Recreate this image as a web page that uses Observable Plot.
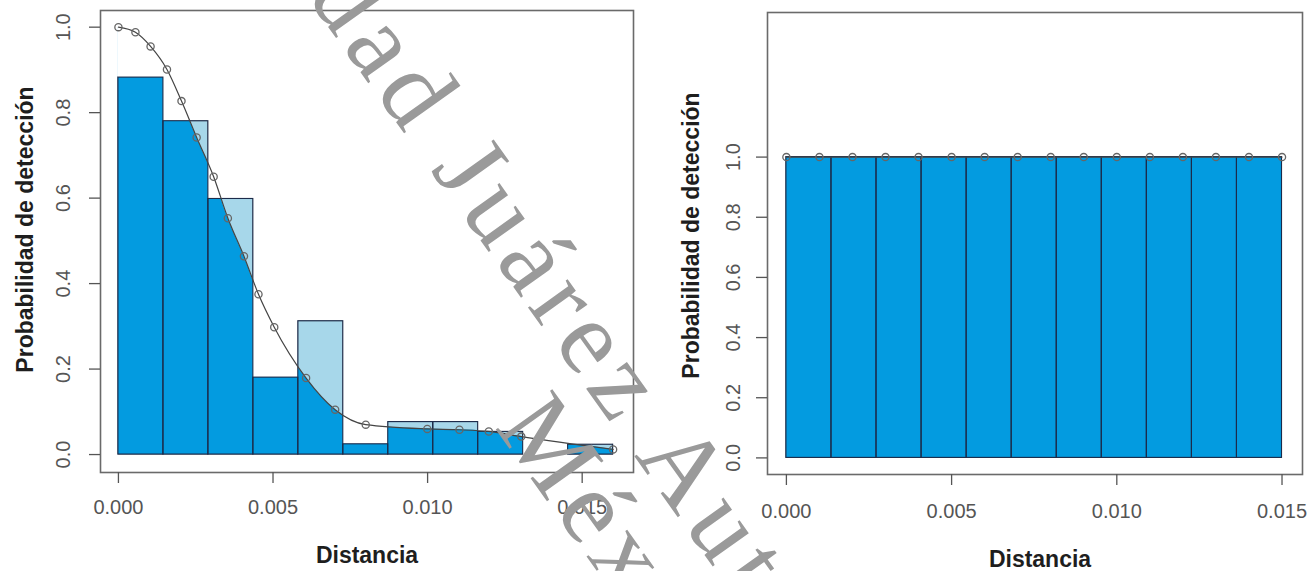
<!DOCTYPE html>
<html><head><meta charset="utf-8">
<script src="https://cdn.jsdelivr.net/npm/d3@7"></script>
<script src="https://cdn.jsdelivr.net/npm/@observablehq/plot@0.6"></script>
<style>
body{margin:0;background:#fff;}
#wrap{position:relative;width:1316px;height:571px;display:flex;overflow:hidden;background:#fff;}
#wrap > div, #wrap > svg{flex:none;}
#wm{position:absolute;left:0;top:0;pointer-events:none;}
</style></head><body><div id="wrap"></div>
<script>
// ---- data: left panel (fitted detection function vs. observed histogram)
const leftBreaks = [0, 0.001455, 0.002909, 0.004364, 0.005818, 0.007273, 0.008727, 0.010182, 0.011636, 0.013091, 0.014545, 0.016];
const leftObserved = [0.882, 0.780, 0.598, 0.180, 0.312, 0.024, 0.076, 0.076, 0.053, 0.000, 0.023];
const leftCurveX = [0, 0.00055, 0.00104, 0.00157, 0.00204, 0.00253, 0.00308, 0.00354, 0.00406, 0.00453, 0.00504, 0.00607, 0.00701, 0.00800, 0.00999, 0.01103, 0.01198, 0.01303, 0.01600];
const leftCurveY = [1.000, 0.988, 0.955, 0.901, 0.827, 0.742, 0.650, 0.553, 0.464, 0.375, 0.298, 0.179, 0.105, 0.070, 0.060, 0.058, 0.054, 0.042, 0.012];
const leftXTicks = [0, 0.005, 0.010, 0.015];
const leftYTicks = [0, 0.2, 0.4, 0.6, 0.8, 1.0];

// ---- data: right panel
const rightBreaks = [0, 0.001364, 0.002727, 0.004091, 0.005455, 0.006818, 0.008182, 0.009545, 0.010909, 0.012273, 0.013636, 0.015];
const rightObserved = [1, 1, 1, 1, 1, 1, 1, 1, 1, 1, 1];
const rightCurveX = [0, 0.001, 0.002, 0.003, 0.004, 0.005, 0.006, 0.007, 0.008, 0.009, 0.010, 0.011, 0.012, 0.013, 0.014, 0.015];
const rightCurveY = [1, 1, 1, 1, 1, 1, 1, 1, 1, 1, 1, 1, 1, 1, 1, 1];
const rightXTicks = [0, 0.005, 0.010, 0.015];
const rightYTicks = [0, 0.2, 0.4, 0.6, 0.8, 1.0];

const xTitle = "Distancia";
const yTitle = "Probabilidad de detección";
const wmLine1 = "Universidad Juárez Autónoma de Tabasco";
const wmLine2 = "México";

const DARK = "#039be0";
const LIGHT = "#a7d7ea";
const NAVY = "#1c2b4a";
const FONT = "'Liberation Sans', Arial, Helvetica, sans-serif";

function panel(o) {
  const n = o.observed.length;
  const bins = o.observed.map((v, i) => ({x1: o.breaks[i], x2: o.breaks[i + 1], y: v}));
  const curve = o.cx.map((x, i) => ({x, y: o.cy[i]}));
  const steps = bins.map(b => ({x: b.x1, y: b.y})).concat([{x: o.breaks[n], y: o.observed[n - 1]}]);
  const top = o.yDomain[1];
  return Plot.plot({
    width: 658, height: 571,
    marginLeft: o.m[0], marginRight: o.m[1], marginTop: o.m[2], marginBottom: o.m[3],
    x: {domain: o.xDomain, axis: null},
    y: {domain: o.yDomain, axis: null},
    style: {fontFamily: FONT, background: "white", overflow: "visible"},
    marks: [
      Plot.rectY(bins, {x1: "x1", x2: "x2", y1: 0, y2: "y", fill: LIGHT, stroke: "#5b6b78", strokeWidth: 1}),
      Plot.areaY(curve, {x: "x", y1: 0, y2: "y", curve: "monotone-x", fill: DARK}),
      Plot.areaY(steps, {x: "x", y1: "y", y2: top, curve: "step-after", fill: "white"}),
      Plot.rectY(bins.filter(b => b.y > 0), {x1: "x1", x2: "x2", y1: 0, y2: "y", fill: "none", stroke: NAVY, strokeWidth: 1.1}),
      Plot.line(curve, {x: "x", y: "y", curve: "monotone-x", stroke: "#444", strokeWidth: 1.2}),
      Plot.dot(curve, {x: "x", y: "y", r: 3.6, stroke: "#666", fill: "none", strokeWidth: 1.3}),
      Plot.frame({stroke: "#6a6a6a", strokeWidth: 1.6}),
      Plot.axisX(o.xTicks, {tickSize: 11, tickFormat: () => "", label: null, stroke: "#555", strokeWidth: 1.3}),
      Plot.axisY(o.yTicks, {tickSize: 11, tickFormat: () => "", label: null, stroke: "#555", strokeWidth: 1.3}),
      Plot.text(o.xTicks, {x: d => d, y: o.yDomain[0], text: d => d3.format(".3f")(d), dy: o.xLabDy, fontSize: 20, fill: "#555", lineAnchor: "middle"}),
      Plot.text(o.yTicks, {x: o.xDomain[0], y: d => d, text: d => d.toFixed(1), rotate: -90, dx: o.yLabDx, fontSize: 20, fill: "#555", textAnchor: "middle", lineAnchor: "middle"}),
      Plot.text([xTitle], {frameAnchor: "bottom", text: d => d, dx: o.xTitleDx, dy: o.xTitleDy, fontSize: 23, fontWeight: "bold", fill: "#1e1e1e", lineAnchor: "middle"}),
      Plot.text([yTitle], {frameAnchor: "left", text: d => d, rotate: -90, dx: o.yTitleDx, dy: o.yTitleDy, fontSize: 23, fontWeight: "bold", fill: "#1e1e1e", textAnchor: "middle", lineAnchor: "middle"})
    ]
  });
}

const wrap = document.getElementById("wrap");
wrap.appendChild(panel({
  breaks: leftBreaks, observed: leftObserved, cx: leftCurveX, cy: leftCurveY,
  xTicks: leftXTicks, yTicks: leftYTicks,
  xDomain: [-0.00058, 0.01666], yDomain: [-0.042, 1.039],
  m: [100, 25, 10, 99],
  xLabDy: 35, yLabDx: -37, xTitleDx: 0, xTitleDy: 83, yTitleDx: -75, yTitleDy: -12
}));
wrap.appendChild(panel({
  breaks: rightBreaks, observed: rightObserved, cx: rightCurveX, cy: rightCurveY,
  xTicks: rightXTicks, yTicks: rightYTicks,
  xDomain: [-0.000572, 0.01562], yDomain: [-0.0552, 1.4807],
  m: [109, 14, 12, 97],
  xLabDy: 37, yLabDx: -34, xTitleDx: 5, xTitleDy: 85, yTitleDx: -76, yTitleDy: -8
}));

// ---- watermark overlay
const NS = "http://www.w3.org/2000/svg";
const wm = document.createElementNS(NS, "svg");
wm.setAttribute("id", "wm");
wm.setAttribute("width", 1316);
wm.setAttribute("height", 571);
wrap.appendChild(wm);
function wmText(str, px, py, skip, angle) {
  const t = document.createElementNS(NS, "text");
  t.textContent = str;
  t.setAttribute("font-family", "'Liberation Serif', 'Times New Roman', serif");
  t.setAttribute("font-size", 106);
  t.setAttribute("letter-spacing", 8.5);
  t.setAttribute("fill", "#9a9a9a");
  t.setAttribute("transform", `translate(${px},${py}) rotate(${angle})`);
  wm.appendChild(t);
  if (skip > 0) {
    const len = t.getSubStringLength(0, skip);
    t.setAttribute("x", -len);
  }
}
wmText(wmLine1, 306, -4, 8, 54.5);
wmText(wmLine2, 494, 427, 0, 54.5);
</script>
</body></html>
